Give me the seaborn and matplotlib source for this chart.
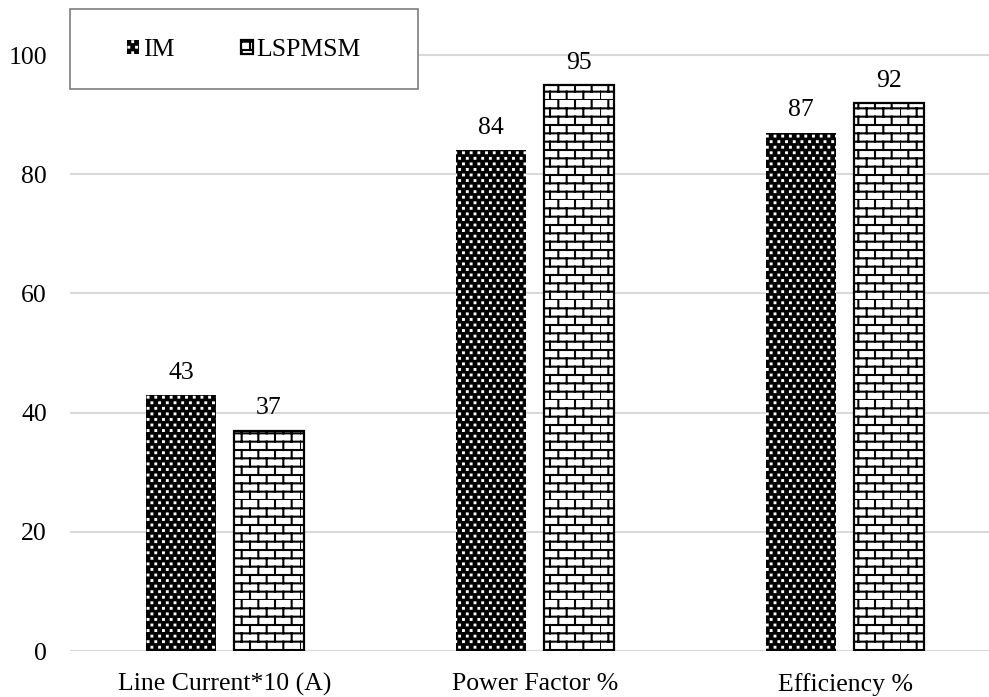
import warnings

import numpy as np
import pandas as pd
import matplotlib
matplotlib.use("Agg")
import matplotlib.pyplot as plt
from matplotlib import hatch as mhatch
from matplotlib.path import Path
from matplotlib.patches import Rectangle
import seaborn as sns

# ---- data -------------------------------------------------------------
categories = ["Line Current*10 (A)", "Power Factor %", "Efficiency %"]
motor_types = ["IM", "LSPMSM"]
im_values = [43, 84, 87]
lspmsm_values = [37, 95, 92]
y_ticks = [0, 20, 40, 60, 80, 100]


# ---- custom hatches ---------------------------------------------------
class BrickHatch(mhatch.HatchPatternBase):
    """Running-bond brick pattern, selected with 'b' in a hatch string."""

    def __init__(self, hatch, density):
        n = hatch.count("b")
        self.rows = int(n * density * 2)
        self.bricks = int(n * density)
        self.num_vertices = 2 * self.rows * (1 + self.bricks) if n else 0

    def set_vertices_and_codes(self, vertices, codes):
        h = 1.0 / self.rows
        w = 1.0 / self.bricks
        segs = []
        for r in range(self.rows):
            y0 = r * h
            segs.append(((0.0, y0), (1.0, y0)))
            off = 0.0 if r % 2 == 0 else w / 2
            for b in range(self.bricks):
                x = off + b * w
                segs.append(((x, y0), (x, y0 + h)))
        vertices[:] = np.array(segs, dtype=float).reshape(-1, 2)
        codes[0::2] = Path.MOVETO
        codes[1::2] = Path.LINETO


class StaggeredDots(mhatch.HatchPatternBase):
    """Fine staggered dot grid, selected with 'd' in a hatch string."""

    def __init__(self, hatch, density):
        n = hatch.count("d")
        self.rows = 18 * n
        self.cols = 13 * n
        self.num_vertices = 5 * self.rows * self.cols if n else 0

    def set_vertices_and_codes(self, vertices, codes):
        s = 0.004
        sq = np.array([[-s, -s], [s, -s], [s, s], [-s, s], [-s, -s]])
        out = []
        for r in range(self.rows):
            y = (r + 0.5) / self.rows
            off = 0.0 if r % 2 == 0 else 0.5
            for c in range(self.cols):
                x = (c + off + 0.25) / self.cols
                out.append(sq + [x, y])
        vertices[:] = np.concatenate(out)
        cd = [Path.MOVETO, Path.LINETO, Path.LINETO, Path.LINETO, Path.CLOSEPOLY]
        codes[:] = np.tile(cd, self.rows * self.cols)


mhatch._hatch_types.extend([BrickHatch, StaggeredDots])
warnings.filterwarnings("ignore", message=".*hatch must consist.*")

# ---- style ------------------------------------------------------------
plt.rcParams["font.family"] = ["Liberation Serif", "DejaVu Serif"]
plt.rcParams["hatch.linewidth"] = 1.5
FS = 18.5

df = pd.DataFrame({
    "category": categories * 2,
    "motor": [motor_types[0]] * len(categories) + [motor_types[1]] * len(categories),
    "value": im_values + lspmsm_values,
})

W, H = 989, 697
fig = plt.figure(figsize=(W / 100, H / 100), dpi=100)
ax = fig.add_axes([70 / W, 46 / H, 930 / W, 643 / H])

sns.barplot(
    data=df, x="category", y="value", hue="motor",
    order=categories, hue_order=motor_types,
    palette=["black", "white"], width=0.564, gap=0.195,
    legend=False, ax=ax,
)

im_bars, lsp_bars = ax.containers[0], ax.containers[1]
for bar in im_bars:
    bar.set_facecolor("black")
    bar.set_edgecolor("white")
    bar.set_linewidth(0)
    bar.set_hatch("d")
for bar in lsp_bars:
    bar.set_facecolor("white")
    bar.set_edgecolor("black")
    bar.set_linewidth(1.6)
    bar.set_hatch("b")

ax.bar_label(im_bars, labels=[f"{v:g}" for v in im_values],
             padding=8, fontsize=FS, color="black")
ax.bar_label(lsp_bars, labels=[f"{v:g}" for v in lspmsm_values],
             padding=8, fontsize=FS, color="black")

ax.set_ylim(0, 107.9)
ax.set_yticks(y_ticks)
ax.set_yticklabels([str(t) for t in y_ticks])
ax.yaxis.grid(True, color="#d9d9d9", linewidth=1.5)
ax.set_axisbelow(True)
for s in ax.spines.values():
    s.set_visible(False)
ax.tick_params(axis="y", length=0, pad=16.5, labelsize=FS, labelcolor="black")
ax.tick_params(axis="x", length=0, pad=16, labelsize=FS, labelcolor="black")
ax.set_xlabel("")
ax.set_ylabel("")

# legend box
fig.patches.append(Rectangle((70 / W, 1 - 89 / H), 348 / W, 80 / H,
                             transform=fig.transFigure, facecolor="white",
                             edgecolor="#7f7f7f", linewidth=1.2, zorder=3))
fig.legend(handles=[im_bars[0], lsp_bars[0]], labels=motor_types,
           loc="center", bbox_to_anchor=(244 / W, 1 - 50 / H),
           bbox_transform=fig.transFigure, ncol=2, frameon=False,
           fontsize=FS, handlelength=0.45, handleheight=0.45,
           handletextpad=0.15, columnspacing=2.6)

fig.savefig("out.png", dpi=100)
